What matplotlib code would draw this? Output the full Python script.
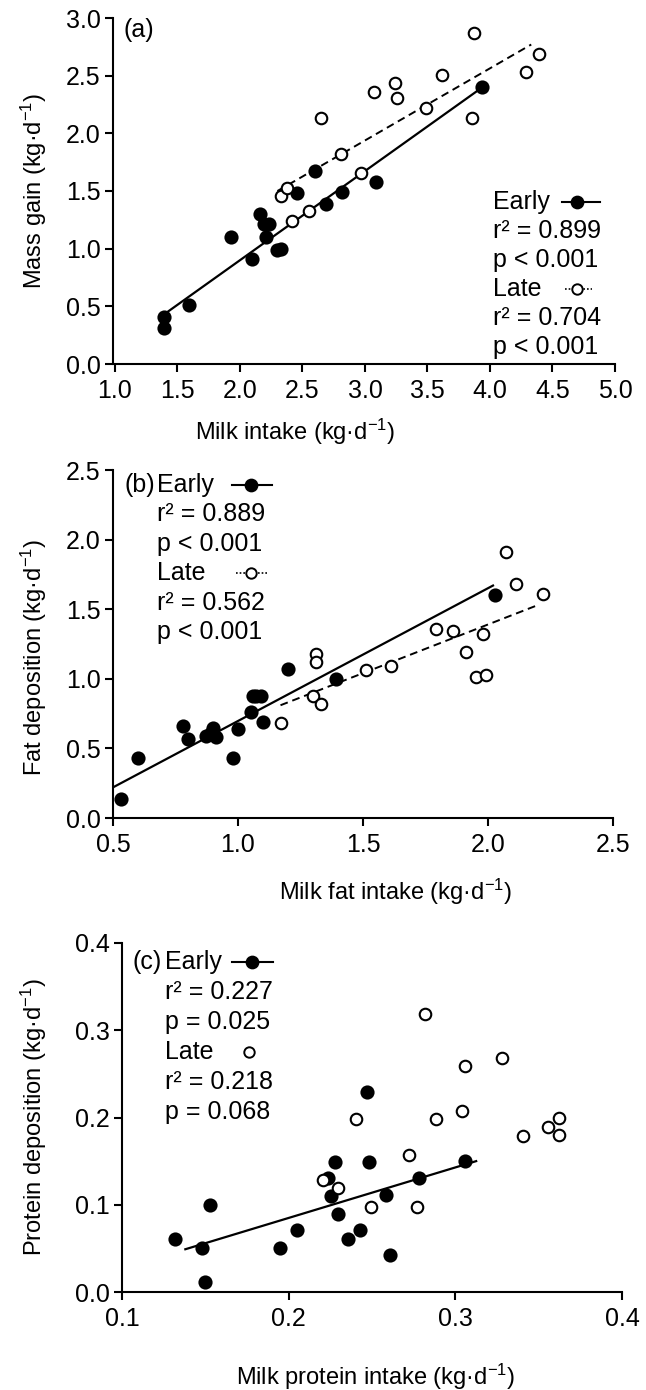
import numpy as np
import matplotlib
matplotlib.use('Agg')
import matplotlib.pyplot as plt

plt.rcParams['font.family'] = ['Liberation Sans', 'DejaVu Sans']
plt.rcParams['font.size'] = 18
plt.rcParams['mathtext.default'] = 'regular'

# (a) mass gain vs milk intake
a_early_x = [1.39, 1.39, 1.59, 1.93, 2.10, 2.16, 2.19, 2.23, 2.21, 2.30, 2.33, 2.46, 2.60, 2.69, 2.82, 3.09, 3.94]
a_early_y = [0.31, 0.41, 0.51, 1.10, 0.91, 1.30, 1.21, 1.21, 1.10, 0.99, 1.00, 1.48, 1.67, 1.39, 1.49, 1.58, 2.40]
a_late_x = [2.33, 2.38, 2.42, 2.55, 2.65, 2.81, 2.97, 3.07, 3.24, 3.26, 3.49, 3.62, 3.86, 3.87, 4.29, 4.39]
a_late_y = [1.46, 1.53, 1.24, 1.33, 2.13, 1.82, 1.66, 2.36, 2.44, 2.31, 2.22, 2.51, 2.13, 2.87, 2.53, 2.69]
a_early_fit = ([1.38, 3.94], [0.42, 2.40])
a_late_fit = ([2.30, 4.33], [1.50, 2.77])

# (b) fat deposition vs milk fat intake
b_early_x = [0.53, 0.60, 0.78, 0.80, 0.87, 0.90, 0.91, 0.89, 0.98, 1.00, 1.05, 1.06, 1.07, 1.09, 1.10, 1.20, 1.39, 2.03]
b_early_y = [0.14, 0.43, 0.66, 0.57, 0.59, 0.65, 0.58, 0.61, 0.43, 0.64, 0.76, 0.88, 0.88, 0.88, 0.69, 1.07, 1.00, 1.60]
b_late_x = [1.17, 1.31, 1.31, 1.30, 1.33, 1.51, 1.61, 1.79, 1.86, 1.91, 1.98, 1.95, 1.99, 2.07, 2.11, 2.22]
b_late_y = [0.68, 1.18, 1.12, 0.88, 0.82, 1.06, 1.09, 1.36, 1.34, 1.19, 1.32, 1.01, 1.03, 1.91, 1.68, 1.61]
b_early_fit = ([0.50, 2.02], [0.22, 1.67])
b_late_fit = ([1.17, 2.20], [0.81, 1.53])

# (c) protein deposition vs milk protein intake
c_early_x = [0.132, 0.148, 0.153, 0.150, 0.195, 0.205, 0.228, 0.2235, 0.2257, 0.2297, 0.2357, 0.243, 0.247, 0.248, 0.2586, 0.261, 0.278, 0.306]
c_early_y = [0.061, 0.051, 0.100, 0.011, 0.051, 0.071, 0.149, 0.131, 0.110, 0.089, 0.061, 0.071, 0.229, 0.149, 0.111, 0.042, 0.131, 0.150]
c_late_x = [0.2207, 0.2297, 0.2406, 0.2496, 0.2723, 0.2773, 0.2884, 0.3038, 0.306, 0.328, 0.3406, 0.3556, 0.362, 0.362, 0.282]
c_late_y = [0.128, 0.119, 0.198, 0.097, 0.157, 0.097, 0.198, 0.207, 0.259, 0.268, 0.179, 0.189, 0.200, 0.180, 0.319]
c_early_fit = ([0.138, 0.3125], [0.049, 0.150])

unit = ' (kg\u00b7d$^{-1}$)'
LBL = 17

fig = plt.figure(figsize=(6.46, 13.9), dpi=100)
W, H = 646, 1390


def make_ax(l, r, top, bottom):
    return fig.add_axes([l / W, 1 - bottom / H, (r - l) / W, (bottom - top) / H])


def style(ax, xlim, ylim, xticks, yticks):
    ax.set_xlim(*xlim)
    ax.set_ylim(*ylim)
    ax.spines['top'].set_visible(False)
    ax.spines['right'].set_visible(False)
    for s in ['left', 'bottom']:
        ax.spines[s].set_linewidth(1.5)
    ax.spines['bottom'].set_bounds(xticks[0], xticks[-1])
    ax.spines['left'].set_bounds(yticks[0], yticks[-1])
    ax.set_xticks(xticks)
    ax.set_yticks(yticks)
    ax.set_xticklabels(['{:.1f}'.format(v) for v in xticks])
    ax.set_yticklabels(['{:.1f}'.format(v) for v in yticks])
    ax.tick_params(direction='out', length=6, width=1.5, labelsize=18)
    ax.tick_params(axis='x', pad=5)
    ax.tick_params(axis='y', pad=3)


def labels(ax, xlabel, ylabel, xpos, ypos):
    ax.set_xlabel(xlabel, fontsize=LBL, va='center', ha='center')
    ax.xaxis.set_label_coords(*xpos)
    ax.set_ylabel(ylabel, fontsize=LBL, va='center', ha='center')
    ax.yaxis.set_label_coords(*ypos)


def key(ax, pos, filled, line):
    # legend key drawn in axes coords
    x0, xm, x1, yy = pos
    if line == 'solid':
        ax.plot([x0, x1], [yy, yy], color='black', lw=1.5, transform=ax.transAxes, clip_on=False)
    elif line == 'dot':
        ax.plot([x0, x1], [yy, yy], color='black', lw=1.2, ls=(0, (1, 1.2)), transform=ax.transAxes, clip_on=False)
    ax.plot([xm], [yy], marker='o', ms=8.5 if filled else 7.5, mfc='black' if filled else 'white',
            mec='black', mew=1.4, transform=ax.transAxes, clip_on=False)


def legend_text(ax, x, y0, step, lines):
    for i, t in enumerate(lines):
        ax.text(x, y0 - i * step, t, transform=ax.transAxes, ha='left', va='center', fontsize=18)


filled = dict(ls='none', marker='o', ms=9, mfc='black', mec='black', mew=1.2, zorder=3)
opened = dict(ls='none', marker='o', ms=8.3, mfc='white', mec='black', mew=1.5, zorder=4)

# ---- panel (a)
ax = make_ax(113, 615, 18, 364)
style(ax, (0.985, 5.0), (0, 3.0), [1.0, 1.5, 2.0, 2.5, 3.0, 3.5, 4.0, 4.5, 5.0],
      [0.0, 0.5, 1.0, 1.5, 2.0, 2.5, 3.0])
ax.plot(*a_early_fit, color='black', lw=1.6, zorder=2)
ax.plot(*a_late_fit, color='black', lw=1.4, ls=(0, (4, 2.5)), zorder=2)
ax.plot(a_early_x, a_early_y, **filled)
ax.plot(a_late_x, a_late_y, **opened)
ax.text(0.02, 0.965, '(a)', transform=ax.transAxes, ha='left', va='center', fontsize=18)
step = 29 / 346
legend_text(ax, 0.757, 0.468, step, ['Early', 'r\u00b2 = 0.899', 'p < 0.001', 'Late', 'r\u00b2 = 0.704', 'p < 0.001'])
key(ax, (0.894, 0.924, 0.970, 0.468), True, 'solid')
key(ax, (0.90, 0.924, 0.955, 0.468 - 3 * step), False, 'dot')
labels(ax, 'Milk intake' + unit, 'Mass gain' + unit, (0.363, -0.197), (-0.157, 0.5))

# ---- panel (b)
ax = make_ax(113, 613, 470, 818)
style(ax, (0.5, 2.5), (0, 2.5), [0.5, 1.0, 1.5, 2.0, 2.5],
      [0.0, 0.5, 1.0, 1.5, 2.0, 2.5])
ax.plot(*b_early_fit, color='black', lw=1.6, zorder=2)
ax.plot(*b_late_fit, color='black', lw=1.4, ls=(0, (4, 2.5)), zorder=2)
ax.plot(b_early_x, b_early_y, **filled)
ax.plot(b_late_x, b_late_y, **opened)
ax.text(0.022, 0.957, '(b)', transform=ax.transAxes, ha='left', va='center', fontsize=18)
step = 29.4 / 348
legend_text(ax, 0.088, 0.957, step, ['Early', 'r\u00b2 = 0.889', 'p < 0.001', 'Late', 'r\u00b2 = 0.562', 'p < 0.001'])
key(ax, (0.238, 0.276, 0.318, 0.957), True, 'solid')
key(ax, (0.245, 0.276, 0.31, 0.957 - 3 * step), False, 'dot')
labels(ax, 'Milk fat intake' + unit, 'Fat deposition' + unit, (0.566, -0.213), (-0.158, 0.46))

# ---- panel (c)
ax = make_ax(122, 622, 943, 1292)
style(ax, (0.1, 0.4), (0, 0.4), [0.1, 0.2, 0.3, 0.4],
      [0.0, 0.1, 0.2, 0.3, 0.4])
ax.plot(*c_early_fit, color='black', lw=1.6, zorder=2)
ax.plot(c_early_x, c_early_y, **filled)
ax.plot(c_late_x, c_late_y, **opened)
ax.text(0.022, 0.946, '(c)', transform=ax.transAxes, ha='left', va='center', fontsize=18)
step = 30 / 349
legend_text(ax, 0.086, 0.946, step, ['Early', 'r\u00b2 = 0.227', 'p = 0.025', 'Late', 'r\u00b2 = 0.218', 'p = 0.068'])
key(ax, (0.22, 0.26, 0.302, 0.946), True, 'solid')
key(ax, (0.254, 0.254, 0.254, 0.946 - 3 * step), False, None)
labels(ax, 'Milk protein intake' + unit, 'Protein deposition' + unit, (0.508, -0.243), (-0.176, 0.5))

fig.savefig('out.png', dpi=100)
